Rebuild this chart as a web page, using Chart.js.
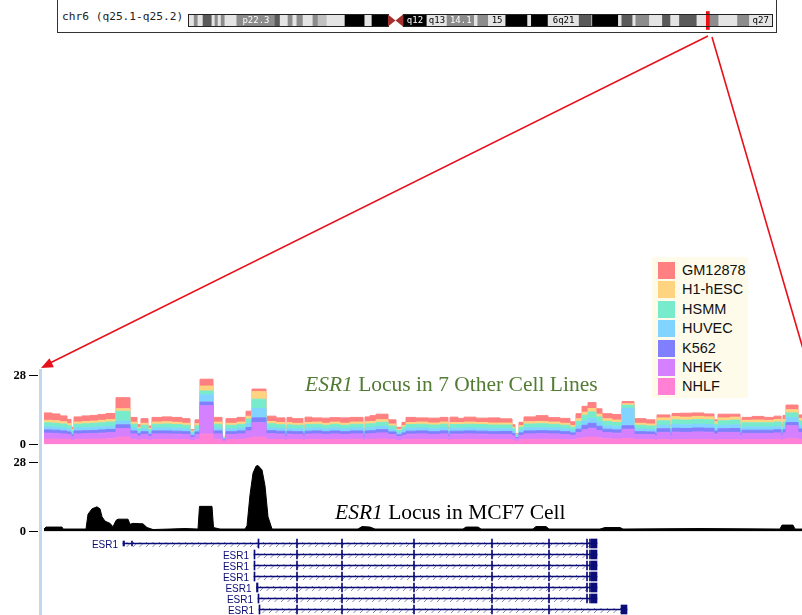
<!DOCTYPE html>
<html>
<head>
<meta charset="utf-8">
<script src="https://cdn.jsdelivr.net/npm/chart.js@4/dist/chart.umd.min.js"></script>
<style>
  html, body { margin: 0; padding: 0; background: #fff; }
  #page { position: relative; width: 802px; height: 615px; overflow: hidden; background: #fff; }
  canvas { position: absolute; left: 0; }
  #ideoFrame { position: absolute; left: 57px; top: -2px; width: 718px; height: 33px; border: 1px solid #333; }
  #ideoName { position: absolute; left: 62px; top: 10px; font: 11.2px 'DejaVu Sans Mono', monospace;
              color: #222; white-space: nowrap; }
  #sideBar { position: absolute; left: 39px; top: 369px; width: 3px; height: 246px; background: #c2d8ef; }
  .trackTitle { position: absolute; white-space: nowrap; font-family: 'Liberation Serif', 'Times New Roman', serif;
                font-size: 21.5px; line-height: 24px; }
  #title1 { left: 305px; top: 372px; color: #527b33; }
  #title2 { left: 335px; top: 500px; color: #000; }
  #legend { position: absolute; left: 652px; top: 257px; width: 96px; height: 141px; background: #fffbea; }
  #legend .row { position: absolute; left: 6px; height: 17px; }
  #legend .sw { position: absolute; left: 0; top: 0; width: 17px; height: 17px; }
  #legend .lb { position: absolute; left: 24px; top: -1px; font: 14.5px 'Liberation Sans', Arial, sans-serif;
                color: #111; line-height: 19px; white-space: nowrap; }
  #links { position: absolute; left: 0; top: 0; }
</style>
</head>
<body>
<div id="page">
  <div id="ideoFrame"></div>
  <div id="ideoName">chr6 (q25.1-q25.2)</div>
  <canvas id="ideogram" width="802" height="40" style="top:0"></canvas>
  <div id="sideBar"></div>
  <canvas id="layered" width="802" height="90" style="top:365px"></canvas>
  <canvas id="mcf7" width="802" height="90" style="top:452px"></canvas>
  <canvas id="genes" width="802" height="77" style="top:538px"></canvas>
  <div class="trackTitle" id="title1"><i>ESR1</i> Locus in 7 Other Cell Lines</div>
  <div class="trackTitle" id="title2"><i>ESR1</i> Locus in MCF7 Cell</div>
  <div id="legend"></div>
  <svg id="links" width="802" height="615">
    <line x1="708" y1="36" x2="50" y2="363" stroke="#e8101a" stroke-width="1.6"/>
    <polygon points="41,368 53.9,367.2 49.5,358.2" fill="#e8101a"/>
    <line x1="712" y1="37" x2="806" y2="359" stroke="#e8101a" stroke-width="1.6"/>
  </svg>
</div>
<script>
// ---------------- chromosome 6 ideogram (Mb) ----------------
const bandStart = [0, 1.8, 2.9, 4.4, 7.0, 7.9, 8.8, 9.7, 10.8, 14.3, 25.5, 27.0, 29.3, 30.7, 31.9, 33.7, 36.6, 38.1, 40.7,
  46.0, 51.8, 53.9, 58.6, 63.0, 70.0, 75.9, 83.9, 84.9, 88.0, 93.1, 99.5, 100.6, 105.5, 114.6, 118.3, 118.5, 126.1,
  127.1, 130.3, 131.2, 135.2, 139.0, 141.4, 144.0, 149.1, 152.5, 155.5, 161.0, 164.5];
const bandEnd = [1.8, 2.9, 4.4, 7.0, 7.9, 8.8, 9.7, 10.8, 14.3, 25.5, 27.0, 29.3, 30.7, 31.9, 33.7, 36.6, 38.1, 40.7, 46.0,
  51.8, 53.9, 58.6, 63.0, 70.0, 75.9, 83.9, 84.9, 88.0, 93.1, 99.5, 100.6, 105.5, 114.6, 118.3, 118.5, 126.1, 127.1,
  130.3, 131.2, 135.2, 139.0, 141.4, 144.0, 149.1, 152.5, 155.5, 161.0, 164.5, 171.1];
const bandStain = ['gneg', 'gpos50', 'gneg', 'gpos75', 'gneg', 'gpos50', 'gneg', 'gpos50', 'gneg', 'gpos50', 'gpos75',
  'gneg', 'gpos50', 'gneg', 'gpos50', 'gneg', 'gpos50', 'gpos25', 'gneg', 'gpos100', 'gneg', 'gpos100', 'acen',
  'gpos100', 'gneg', 'gpos50', 'gneg', 'gpos50', 'gneg', 'gpos100', 'gneg', 'gpos100', 'gneg', 'gpos75', 'gneg',
  'gpos100', 'gneg', 'gpos75', 'gneg', 'gpos50', 'gneg', 'gpos75', 'gneg', 'gpos75', 'gneg', 'gpos50', 'gneg',
  'gpos50', 'gneg'];
const bandLabel = ['', '', '', '', '', '', '', '', '', 'p22.3', '', '', '', '', '', '', '', '', '', '', '', '', '',
  'q12', 'q13', '14.1', '', '', '15', '', '', '', '6q21', '', '', '', '', '', '', '', '', '', '', '', '', '', '', '', 'q27'];
const chromLength = 171.1;
const centromere = [58.6, 63.0];
const viewWindowMb = [151.85, 152.75];

// ---------------- genome browser window (kb from window start) ----------------
const cellLines = ['GM12878', 'H1-hESC', 'HSMM', 'HUVEC', 'K562', 'NHEK', 'NHLF'];
const cellColors = ['#ff8080', '#ffd480', '#78ebcc', '#80d4ff', '#8080ff', '#d480ff', '#ff80d4'];

// H3K27Ac signal, one value per segment starting at segStartKb (last entry closes the final segment)
const segStartKb = [0, 8, 16, 23, 27, 30, 38, 46, 54, 62,
  72, 86, 93, 97, 104, 108, 118, 128, 138, 146,
  151, 156, 169, 178, 182, 193, 202, 208, 222, 232,
  241, 243, 248, 259, 261, 268, 278, 286, 296, 306,
  319, 321, 326, 332, 344, 352, 358, 362, 372, 384,
  396, 404, 406, 414, 420, 432, 444, 456, 468, 471,
  475, 480, 492, 504, 516, 526, 532, 538, 544, 552,
  558, 568, 578, 590, 602, 611, 613, 626, 628, 636,
  648, 660, 670, 674, 686, 696, 698, 708, 720, 730,
  737, 739, 742, 754, 766];
const sigNHLF = [2.2, 2.2, 2.1, 2.0, 1.6, 2.1, 2.1, 2.2, 2.2, 2.3,
  3.0, 2.1, 1.8, 2.0, 1.7, 2.1, 2.1, 2.0, 2.0, 1.5,
  2.0, 4.2, 2.1, 1.0, 2.0, 2.1, 2.5, 3.0, 2.1, 2.0,
  1.6, 2.0, 2.0, 1.7, 2.0, 2.1, 2.0, 2.1, 2.0, 2.1,
  1.5, 2.1, 2.1, 2.2, 2.0, 1.6, 1.9, 2.0, 2.1, 2.0,
  2.1, 1.6, 2.0, 2.0, 2.1, 2.0, 2.0, 2.0, 1.8, 1.2,
  1.9, 2.1, 2.1, 2.1, 2.0, 1.9, 2.3, 2.8, 3.0, 2.7,
  2.3, 2.2, 2.4, 2.0, 2.0, 1.6, 2.0, 1.6, 2.0, 2.0,
  2.1, 2.0, 1.8, 2.0, 2.0, 1.6, 2.0, 2.0, 2.0, 2.1,
  1.6, 2.1, 2.4, 2.1, 2.1];
const sigNHEK = [2.4, 2.3, 2.2, 2.0, 1.5, 2.2, 2.3, 2.3, 2.4, 2.5,
  3.5, 2.2, 1.7, 2.1, 1.6, 2.2, 2.2, 2.2, 2.1, 1.4,
  2.0, 11.5, 2.2, 0.8, 2.1, 2.2, 3.0, 5.8, 2.3, 2.2,
  1.5, 2.2, 2.1, 1.6, 2.2, 2.2, 2.1, 2.2, 2.1, 2.2,
  1.4, 2.2, 2.3, 2.5, 2.0, 1.5, 1.8, 2.2, 2.2, 2.1,
  2.2, 1.5, 2.2, 2.2, 2.2, 2.2, 2.1, 2.1, 1.7, 1.1,
  1.8, 2.2, 2.3, 2.2, 2.1, 1.8, 2.5, 3.2, 3.6, 3.0,
  2.5, 2.4, 3.8, 2.1, 2.0, 1.9, 2.9, 2.0, 3.0, 2.9,
  3.0, 3.0, 2.4, 2.9, 2.9, 2.0, 2.5, 2.5, 2.5, 2.6,
  2.0, 2.6, 5.2, 2.8, 2.8];
const sigK562 = [1.3, 1.3, 1.2, 1.1, 0.8, 1.2, 1.2, 1.2, 1.3, 1.3,
  1.5, 1.2, 0.9, 1.1, 0.8, 1.2, 1.2, 1.2, 1.1, 0.7,
  1.1, 1.5, 1.2, 0.3, 1.1, 1.2, 1.4, 2.0, 1.2, 1.2,
  0.8, 1.2, 1.1, 0.9, 1.2, 1.2, 1.1, 1.2, 1.1, 1.2,
  0.7, 1.2, 1.2, 1.3, 1.1, 0.8, 1.0, 1.2, 1.2, 1.1,
  1.2, 0.8, 1.2, 1.2, 1.2, 1.2, 1.1, 1.2, 0.9, 0.5,
  1.0, 1.2, 1.2, 1.2, 1.1, 1.0, 1.4, 1.8, 2.0, 1.7,
  1.4, 1.3, 1.4, 1.1, 1.1, 0.9, 1.5, 1.0, 1.6, 1.6,
  1.6, 1.6, 1.3, 1.5, 1.6, 1.0, 1.3, 1.3, 1.3, 1.3,
  1.0, 1.3, 1.3, 1.4, 1.4];
const sigHUVEC = [1.3, 1.2, 1.2, 1.1, 0.8, 1.2, 1.2, 1.3, 1.3, 1.3,
  1.5, 1.2, 0.9, 1.1, 0.8, 1.2, 1.2, 1.2, 1.1, 0.7,
  1.1, 3.0, 1.2, 0.3, 1.1, 1.2, 1.6, 3.8, 1.2, 1.1,
  0.8, 1.1, 1.1, 0.8, 1.2, 1.2, 1.1, 1.2, 1.1, 1.2,
  0.7, 1.2, 1.2, 1.3, 1.0, 0.8, 1.0, 1.2, 1.2, 1.2,
  1.2, 0.8, 1.2, 1.2, 1.2, 1.2, 1.2, 1.1, 0.9, 0.5,
  1.0, 1.2, 1.2, 1.2, 1.1, 1.0, 1.4, 1.8, 2.0, 1.7,
  1.4, 1.3, 7.0, 1.1, 1.0, 0.8, 1.4, 0.9, 1.5, 1.5,
  1.5, 1.5, 1.2, 1.4, 1.5, 0.9, 1.3, 1.3, 1.3, 1.3,
  0.9, 1.3, 2.0, 1.4, 1.4];
const sigHSMM = [1.6, 1.6, 1.6, 1.4, 1.0, 1.5, 1.6, 1.6, 1.6, 1.7,
  4.0, 1.5, 1.1, 1.5, 1.1, 1.5, 1.6, 1.5, 1.5, 0.8,
  1.4, 1.5, 1.5, 0.3, 1.5, 1.5, 1.8, 3.8, 1.6, 1.5,
  1.0, 1.5, 1.5, 1.1, 1.5, 1.5, 1.5, 1.5, 1.5, 1.5,
  0.9, 1.6, 1.6, 1.7, 1.4, 1.0, 1.3, 1.5, 1.5, 1.5,
  1.5, 1.0, 1.5, 1.5, 1.5, 1.5, 1.5, 1.5, 1.1, 0.6,
  1.3, 1.6, 1.6, 1.5, 1.5, 1.3, 1.8, 2.3, 2.6, 2.1,
  1.8, 1.7, 1.3, 1.5, 1.4, 1.0, 1.8, 1.1, 1.9, 1.9,
  1.9, 1.9, 1.5, 1.8, 1.9, 1.1, 1.7, 1.7, 1.7, 1.8,
  1.1, 1.8, 1.9, 1.8, 1.8];
const sigH1 = [1.0, 1.0, 0.9, 0.8, 0.5, 0.9, 0.9, 0.9, 1.0, 1.0,
  1.0, 0.9, 0.6, 0.8, 0.6, 0.9, 0.9, 0.9, 0.8, 0.4,
  0.8, 2.0, 0.9, 0.1, 0.8, 0.9, 1.2, 3.0, 0.9, 0.9,
  0.5, 0.9, 0.8, 0.6, 0.8, 0.9, 0.8, 0.9, 0.8, 0.9,
  0.5, 0.9, 0.9, 1.0, 0.8, 0.5, 0.7, 0.8, 0.9, 0.8,
  0.9, 0.5, 0.8, 0.8, 0.9, 0.8, 0.8, 0.8, 0.6, 0.3,
  0.7, 0.9, 0.9, 0.9, 0.8, 0.7, 1.0, 1.2, 1.4, 1.1,
  1.0, 1.0, 0.6, 0.8, 0.8, 0.6, 1.2, 0.7, 1.3, 1.2,
  1.3, 1.2, 1.0, 1.2, 1.2, 0.7, 1.0, 1.1, 1.0, 1.1,
  0.7, 1.1, 1.3, 1.1, 1.1];
const sigGM12878 = [3.0, 2.8, 2.4, 1.8, 0.8, 2.1, 2.3, 2.3, 2.4, 2.5,
  4.5, 1.9, 1.0, 1.9, 0.9, 1.9, 2.0, 2.0, 1.9, 0.5,
  1.6, 2.8, 1.9, 0.2, 1.9, 1.9, 2.0, 1.1, 2.2, 1.9,
  0.6, 2.1, 1.9, 0.8, 2.2, 1.7, 2.1, 1.8, 2.2, 1.9,
  0.6, 2.0, 2.4, 2.3, 1.7, 0.8, 1.3, 2.1, 1.7, 2.0,
  1.9, 0.7, 2.2, 1.7, 2.0, 1.8, 2.1, 1.7, 1.0, 0.3,
  1.3, 2.0, 2.4, 1.8, 2.0, 1.5, 2.1, 2.4, 2.4, 2.2,
  2.1, 2.3, 0.9, 1.9, 1.7, 0.5, 1.2, 0.6, 1.3, 1.6,
  1.4, 1.2, 0.8, 1.5, 1.2, 0.6, 1.2, 1.5, 1.2, 1.3,
  0.6, 1.6, 1.9, 1.4, 1.4];
const layeredSignal = {
  'GM12878': sigGM12878, 'H1-hESC': sigH1, 'HSMM': sigHSMM, 'HUVEC': sigHUVEC,
  'K562': sigK562, 'NHEK': sigNHEK, 'NHLF': sigNHLF
};

// MCF7 H3K27Ac signal
const mcf7Kb = [0, 2, 18, 19, 42, 44, 48, 53, 56, 58, 61, 66, 69, 72, 74, 84, 86, 89, 99, 103, 109, 126, 141, 154, 155.5,
  168, 169.5, 176, 201, 203, 206, 209, 212, 214, 218, 221, 224, 228, 256, 296, 314, 318, 326, 331, 419, 422, 434, 437,
  489, 492, 502, 505, 556, 561, 576, 579, 656, 736, 738, 749, 751, 766];
const mcf7Signal = [1.0, 1.8, 1.8, 1.0, 1.0, 7.0, 9.2, 10.0, 9.2, 6.0, 4.2, 3.3, 1.9, 4.5, 5.0, 5.0, 2.9, 3.3, 3.1, 1.6,
  0.8, 1.0, 1.2, 1.0, 10.2, 10.2, 1.6, 1.0, 1.0, 2.3, 14.9, 23.7, 26.5, 26.8, 25.0, 18.6, 6.0, 1.0, 1.0, 1.0, 1.0, 2.0,
  1.8, 1.0, 1.0, 1.8, 1.8, 1.0, 1.0, 2.0, 2.0, 1.0, 1.0, 1.6, 1.6, 1.0, 1.2, 1.0, 2.6, 2.6, 1.0, 1.0];

// ESR1 transcripts: start, end (kb) and exon blocks
const txName = ['ESR1', 'ESR1', 'ESR1', 'ESR1', 'ESR1', 'ESR1', 'ESR1'];
const txStart = [79, 210, 210, 210, 212.5, 214, 215];
const txEnd = [553, 553, 553, 553, 553, 553, 583];
const sharedExons = [[252.5, 253.5], [297.5, 298.5], [369.5, 370.5], [447.5, 448.5], [504.5, 505.5]];
const txExons = [
  [[214, 215], ...sharedExons, [542.5, 543.3], [545.5, 546.3], [547.2, 553]],
  [[210, 211], ...sharedExons, [542.5, 543.3], [545.5, 546.3], [547.2, 553]],
  [[210, 211], ...sharedExons, [542.5, 543.3], [545.5, 546.3], [547.2, 553]],
  [[210, 211], ...sharedExons, [542.5, 543.3], [545.5, 546.3], [547.2, 553]],
  [[212.5, 214], ...sharedExons, [542.5, 543.3], [545.5, 546.3], [547.2, 553]],
  [[214, 215], ...sharedExons, [542.5, 543.3], [545.5, 546.3], [547.2, 553]],
  [[215, 216], ...sharedExons, [577, 583]]
];
const txUtr = [[[79, 80.5], [87.5, 88.5]], [], [], [], [], [], []];

// ---------------- shared settings ----------------
const windowKb = { min: -6, max: 758 };
const geneColor = '#0c0c78';
Chart.defaults.animation = false;
Chart.defaults.responsive = false;
Chart.defaults.plugins.legend.display = false;
Chart.defaults.plugins.tooltip.enabled = false;

const stainColor = { gneg: '#e4e4e4', gpos25: '#c0c0c0', gpos50: '#8c8c8c', gpos75: '#5a5a5a', gpos100: '#000000', acen: 'rgba(0,0,0,0)' };
const stainText = { gneg: '#000', gpos25: '#000', gpos50: '#fff', gpos75: '#fff', gpos100: '#fff' };
const ideoBarHeight = 11;

// ---------------- ideogram ----------------
const ideogramDecor = {
  id: 'ideogramDecor',
  afterDatasetsDraw(chart) {
    const { ctx, scales: { x, y } } = chart;
    const mid = y.getPixelForValue(0.5);
    const top = mid - ideoBarHeight / 2, bottom = mid + ideoBarHeight / 2;
    ctx.save();
    ctx.font = '9px "DejaVu Sans Mono", monospace';
    ctx.textAlign = 'center';
    ctx.textBaseline = 'middle';
    bandLabel.forEach((t, i) => {
      if (!t) return;
      ctx.fillStyle = stainText[bandStain[i]];
      ctx.fillText(t, (x.getPixelForValue(bandStart[i]) + x.getPixelForValue(bandEnd[i])) / 2, mid + 0.5);
    });
    ctx.strokeStyle = '#222';
    ctx.lineWidth = 1;
    const a0 = x.getPixelForValue(0), a1 = x.getPixelForValue(centromere[0]);
    const b0 = x.getPixelForValue(centromere[1]), b1 = x.getPixelForValue(chromLength);
    ctx.strokeRect(Math.round(a0) + 0.5, Math.round(top) - 0.5, Math.round(a1 - a0), ideoBarHeight + 1);
    ctx.strokeRect(Math.round(b0) + 0.5, Math.round(top) - 0.5, Math.round(b1 - b0), ideoBarHeight + 1);
    const cm = (a1 + b0) / 2;
    ctx.fillStyle = '#a3302c';
    ctx.beginPath();
    ctx.moveTo(a1, top - 0.5); ctx.lineTo(cm, mid); ctx.lineTo(a1, bottom + 0.5); ctx.closePath(); ctx.fill();
    ctx.beginPath();
    ctx.moveTo(b0, top - 0.5); ctx.lineTo(cm, mid); ctx.lineTo(b0, bottom + 0.5); ctx.closePath(); ctx.fill();
    ctx.restore();
  }
};

new Chart(document.getElementById('ideogram'), {
  type: 'bar',
  data: {
    datasets: [
      {
        data: [{ x: viewWindowMb, y: 0.5 }],
        backgroundColor: '#ee1111', barThickness: 18, grouped: false, order: 0, minBarLength: 3
      },
      {
        data: bandStart.map((s, i) => ({ x: [s, bandEnd[i]], y: 0.5 })),
        backgroundColor: bandStain.map(s => stainColor[s]), barThickness: ideoBarHeight, grouped: false, order: 1
      }
    ]
  },
  options: {
    indexAxis: 'y',
    layout: { padding: { left: 188, right: 30, top: 6, bottom: 5 } },
    scales: {
      x: { type: 'linear', min: 0, max: chromLength, display: false, offset: false },
      y: { type: 'linear', min: 0, max: 1, display: false, offset: false }
    }
  },
  plugins: [ideogramDecor]
});

// ---------------- signal tracks ----------------
function trackAxis() {
  return {
    min: 0, max: 28,
    afterBuildTicks: s => { s.ticks = [{ value: 0 }, { value: 28 }]; },
    afterFit: s => { s.width = 38; },
    border: { display: false },
    grid: { drawOnChartArea: false, tickLength: 9, tickColor: '#000', tickWidth: 1 },
    ticks: { font: { family: "'Liberation Serif', 'Times New Roman', serif", weight: 'bold', size: 12.5 }, color: '#000', padding: 3 }
  };
}

const stackOrder = cellLines.slice().reverse(); // NHLF at the bottom, GM12878 on top
const layeredChart = new Chart(document.getElementById('layered'), {
  type: 'line',
  data: {
    datasets: stackOrder.map((name, i) => {
      const color = cellColors[cellLines.indexOf(name)];
      return {
        label: name,
        data: segStartKb.map((x, j) => ({ x, y: layeredSignal[name][j] })),
        stepped: true,
        fill: i === 0 ? 'origin' : '-1',
        backgroundColor: color,
        borderColor: color,
        borderWidth: 1,
        pointRadius: 0
      };
    })
  },
  options: {
    layout: { padding: { top: 10, bottom: 7 } },
    scales: {
      x: { type: 'linear', min: windowKb.min, max: windowKb.max, display: false },
      y: Object.assign(trackAxis(), { stacked: true })
    }
  }
});

new Chart(document.getElementById('mcf7'), {
  type: 'line',
  data: {
    datasets: [{
      label: 'MCF7',
      data: mcf7Kb.map((x, j) => ({ x, y: mcf7Signal[j] })),
      fill: 'origin', backgroundColor: '#000', borderColor: '#000', borderWidth: 1, pointRadius: 0, tension: 0
    }]
  },
  options: {
    layout: { padding: { top: 10, bottom: 6 } },
    scales: {
      x: { type: 'linear', min: windowKb.min, max: windowKb.max, display: false },
      y: trackAxis()
    }
  }
});

// ---------------- gene models ----------------
const geneDecor = {
  id: 'geneDecor',
  afterDatasetsDraw(chart) {
    const { ctx, scales: { x, y } } = chart;
    ctx.save();
    ctx.font = '10px "Liberation Sans", Arial, sans-serif';
    ctx.textAlign = 'right';
    ctx.textBaseline = 'middle';
    txStart.forEach((s, i) => {
      const py = Math.round(y.getPixelForValue(i + 1)) + 0.5;
      const x0 = x.getPixelForValue(s), x1 = x.getPixelForValue(txEnd[i]);
      ctx.fillStyle = geneColor;
      ctx.fillText(txName[i], x0 - 5, py + 0.5);
      // strand chevrons along the intron line
      ctx.strokeStyle = 'rgba(12,12,120,0.5)';
      ctx.lineWidth = 1;
      for (let cx = x0 + 5; cx < x1 - 4; cx += 6.5) {
        ctx.beginPath();
        ctx.moveTo(cx - 1.5, py - 2.5);
        ctx.lineTo(cx + 1, py);
        ctx.lineTo(cx - 1.5, py + 2.5);
        ctx.stroke();
      }
    });
    ctx.restore();
  }
};

const rows = txStart.map((_, i) => i + 1);
new Chart(document.getElementById('genes'), {
  type: 'bar',
  data: {
    datasets: [
      {
        label: 'intron', data: rows.map(r => ({ x: [txStart[r - 1], txEnd[r - 1]], y: r })),
        backgroundColor: geneColor, barThickness: 1, grouped: false, order: 3
      },
      {
        label: 'utr', data: txUtr.flatMap((ex, i) => ex.map(e => ({ x: e, y: i + 1 }))),
        backgroundColor: geneColor, barThickness: 5, grouped: false, order: 2, minBarLength: 1
      },
      {
        label: 'exon', data: txExons.flatMap((ex, i) => ex.map(e => ({ x: e, y: i + 1 }))),
        backgroundColor: geneColor, barThickness: 9, grouped: false, order: 1, minBarLength: 1
      }
    ]
  },
  options: {
    indexAxis: 'y',
    layout: { padding: { left: 38 } },
    scales: {
      x: { type: 'linear', min: windowKb.min, max: windowKb.max, display: false, offset: false },
      y: { type: 'linear', min: 0.5, max: 7.5, reverse: true, display: false, offset: false }
    }
  },
  plugins: [geneDecor]
});

// ---------------- legend built from the layered datasets ----------------
const legendEl = document.getElementById('legend');
layeredChart.data.datasets.slice().reverse().forEach((ds, i) => {
  const row = document.createElement('div');
  row.className = 'row';
  row.style.top = (5 + i * 19.4) + 'px';
  row.innerHTML = '<div class="sw" style="background:' + ds.backgroundColor + '"></div><div class="lb">' + ds.label + '</div>';
  legendEl.appendChild(row);
});
</script>
</body>
</html>
